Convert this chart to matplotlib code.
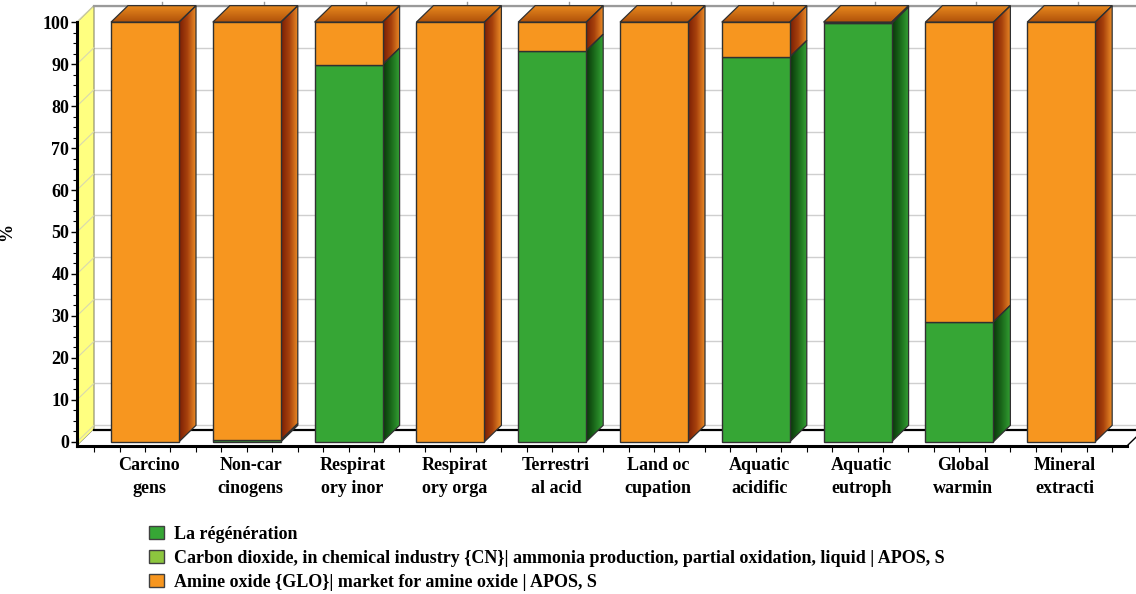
import matplotlib
matplotlib.use("Agg")
import matplotlib.pyplot as plt
import matplotlib.transforms as mtransforms
import numpy as np
from matplotlib.patches import Polygon, Patch
from matplotlib.colors import LinearSegmentedColormap

# data (stacked %, per impact category)
categories = ["Carcino\ngens", "Non-car\ncinogens", "Respirat\nory inor", "Respirat\nory orga",
              "Terrestri\nal acid", "Land oc\ncupation", "Aquatic\nacidific", "Aquatic\neutroph",
              "Global\nwarmin", "Mineral\nextracti"]
series_names = ["La régénération",
                "Carbon dioxide, in chemical industry {CN}| ammonia production, partial oxidation, liquid | APOS, S",
                "Amine oxide {GLO}| market for amine oxide | APOS, S"]
regeneration = [0, 0.4, 89.9, 0, 93.2, 0, 91.7, 99.7, 28.6, 0]
carbon_dioxide = [0, 0, 0, 0, 0, 0, 0, 0, 0, 0]
amine_oxide = [100, 99.6, 10.1, 100, 6.8, 100, 8.3, 0.3, 71.4, 100]
y_ticks = list(range(0, 101, 10))

# colours
GREEN = "#36a635"
LIGHT_GREEN = "#8cc63e"
ORANGE = "#f7961f"
WALL_YELLOW = "#ffff80"
GRID = "#cfcfcf"
EDGE = "#303030"

side_cmaps = {
    GREEN: LinearSegmentedColormap.from_list("gs", ["#0a360a", "#1b6b1b", "#34a034"]),
    LIGHT_GREEN: LinearSegmentedColormap.from_list("ls", ["#3f6a14", "#6a9a2a", "#8cc63e"]),
    ORANGE: LinearSegmentedColormap.from_list("os", ["#7a1e04", "#a8420c", "#ea8a26"]),
}
top_cmaps = {
    GREEN: LinearSegmentedColormap.from_list("gt", ["#1f7a1f", "#3cb03c"]),
    LIGHT_GREEN: LinearSegmentedColormap.from_list("lt", ["#5f8f22", "#9ad24a"]),
    ORANGE: LinearSegmentedColormap.from_list("ot", ["#b0520a", "#ea8a1e"]),
}

FONT = ["Liberation Serif", "DejaVu Serif"]
FS = 13

W, H = 1136, 594
fig = plt.figure(figsize=(W / 100, H / 100), dpi=100, facecolor="white")
ax = fig.add_axes([77 / W, (H - 446) / H, (W - 77) / W, 444 / H])
ax.set_facecolor("none")
ax.set_autoscale_on(False)

X0, X1 = -0.668, 9.735
Y0, Y1 = -1.0, 104.8
FLOOR_R = 9.646
BW = 0.668
ax.set_xlim(X0, X1)
ax.set_ylim(Y0, Y1)

# depth offset of the fake 3d, in data units
sx = (W - 77) / (X1 - X0)
sy = 444 / (Y1 - Y0)
DX = 17 / sx
DY = 16.5 / sy


def shaded_face(verts, cmap, horizontal, z):
    poly = Polygon(verts, closed=True, facecolor="none", edgecolor=EDGE, lw=0.9, zorder=z + 0.1)
    ax.add_patch(poly)
    xs = [p[0] for p in verts]
    ys = [p[1] for p in verts]
    grad = np.linspace(0, 1, 64)
    img = grad[None, :] if horizontal else grad[:, None]
    im = ax.imshow(img, cmap=cmap, extent=(min(xs), max(xs), min(ys), max(ys)),
                   origin="lower", aspect="auto", interpolation="bilinear", zorder=z)
    im.set_clip_path(poly)


# back wall, left wall, floor
ax.add_patch(Polygon([(X0 + DX, Y0 + DY), (X0 + DX, 100 + DY), (X1 + 1, 100 + DY), (X1 + 1, Y0 + DY)],
                     facecolor="white", edgecolor="none", zorder=0.5))
for v in y_ticks:
    ax.plot([X0 + DX, X1 + 1], [v + DY] * 2, color=GRID, lw=1, zorder=0.6)
ax.add_patch(Polygon([(X0, Y0), (X0, 100), (X0 + DX, 100 + DY), (X0 + DX, Y0 + DY)],
                     facecolor=WALL_YELLOW, edgecolor="#8a8a6a", lw=0.8, zorder=0.7))
for v in y_ticks:
    ax.plot([X0, X0 + DX], [v, v + DY], color="#d8d8b0", lw=0.8, zorder=0.75)
ax.plot([X0 + DX, X1 + 1], [100 + DY] * 2, color="#9a9a9a", lw=1.6, zorder=0.8, clip_on=False)
for i in range(len(categories)):
    ax.plot([i + DX, i + DX], [100 + DY, 100 + DY + 0.9], color="#9a9a9a", lw=1, zorder=0.8, clip_on=False)
ax.add_patch(Polygon([(X0, Y0), (X0 + DX, Y0 + DY), (FLOOR_R + DX, Y0 + DY), (FLOOR_R, Y0)],
                     facecolor="white", edgecolor="none", zorder=0.9))
ax.plot([X0 + DX, FLOOR_R + DX], [Y0 + DY] * 2, color="black", lw=1.6, zorder=0.95, clip_on=False)
ax.plot([FLOOR_R, FLOOR_R + DX], [Y0, Y0 + DY], color="black", lw=1.0, zorder=0.95, clip_on=False)

# stacked pseudo-3d bars
series = [(regeneration, GREEN), (carbon_dioxide, LIGHT_GREEN), (amine_oxide, ORANGE)]
for i in range(len(categories)):
    bottom = 0.0
    last = None
    for vals, col in series:
        v = vals[i]
        if v <= 0:
            continue
        ax.bar(i, v, bottom=bottom, width=BW, color=col, edgecolor=EDGE, lw=1, zorder=3)
        xr = i + BW / 2
        shaded_face([(xr, bottom), (xr + DX, bottom + DY), (xr + DX, bottom + v + DY), (xr, bottom + v)],
                    side_cmaps[col], True, 2.5)
        bottom += v
        last = col
    if last is not None:
        xl = i - BW / 2
        xr = i + BW / 2
        shaded_face([(xl, bottom), (xl + DX, bottom + DY), (xr + DX, bottom + DY), (xr, bottom)],
                    top_cmaps[last], False, 2.5)

# axes, ticks
for s in ("top", "right"):
    ax.spines[s].set_visible(False)
ax.spines["left"].set_bounds(Y0, 100)
ax.spines["bottom"].set_bounds(X0, FLOOR_R)
for s in ("left", "bottom"):
    ax.spines[s].set_linewidth(2.2)
    ax.spines[s].set_color("black")
    ax.spines[s].set_zorder(4)

ax.set_yticks(y_ticks)
ax.set_yticks(np.arange(0, 100.1, 2.5), minor=True)
ax.set_yticklabels([str(v) for v in y_ticks], fontfamily=FONT, fontweight="bold", fontsize=FS)
ax.tick_params(axis="y", which="major", length=4, width=1, pad=1.5)
ax.tick_params(axis="y", which="minor", length=3, width=0.8)

ax.set_xticks(range(len(categories)))
ax.set_xticks(np.arange(-0.5, 9.51, 0.25), minor=True)
ax.set_xticklabels(categories, fontfamily=FONT, fontweight="bold", fontsize=FS, linespacing=1.45)
ax.tick_params(axis="x", which="both", length=4, width=0.8, pad=4)
shift = mtransforms.ScaledTranslation(4 / 100, 0, fig.dpi_scale_trans)
for lbl in ax.get_xticklabels():
    lbl.set_transform(lbl.get_transform() + shift)

ax.set_ylabel("%", fontfamily=FONT, fontweight="bold", fontsize=FS)
ax.yaxis.set_label_coords((15 - 77) / (W - 77), (446 - 232) / 444)

handles = [Patch(facecolor=c, edgecolor="#404040", lw=1) for c in (GREEN, LIGHT_GREEN, ORANGE)]
fig.legend(handles, series_names, loc="upper left", bbox_to_anchor=(149 / W, 1 - 526 / H),
           frameon=False, prop={"family": FONT, "weight": "bold", "size": FS},
           handlelength=0.85, handleheight=0.75, handletextpad=0.55, labelspacing=0.38,
           borderaxespad=0, borderpad=0)

fig.savefig("out.png", dpi=100, facecolor="white")
